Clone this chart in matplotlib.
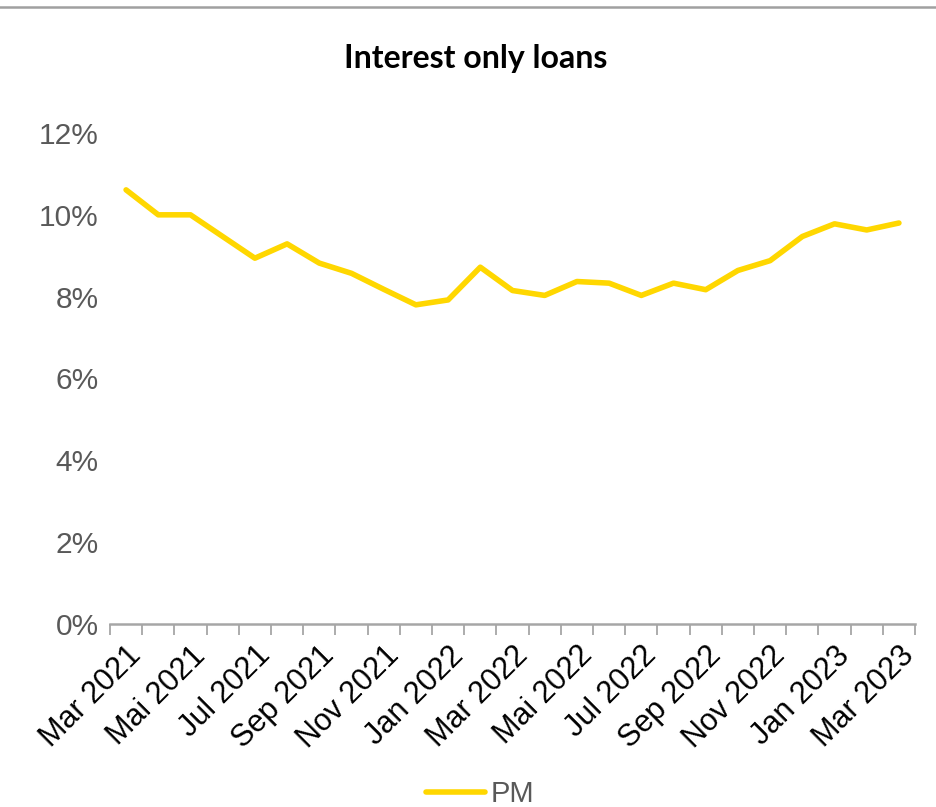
import matplotlib as mpl
import matplotlib.pyplot as plt
from matplotlib.lines import Line2D
import numpy as np

mpl.rcParams["font.family"] = ["Liberation Sans", "DejaVu Sans"]

# monthly data, Mar 2021 .. Mar 2023
months = ["Mar 2021", "Apr 2021", "Mai 2021", "Jun 2021", "Jul 2021", "Aug 2021",
          "Sep 2021", "Okt 2021", "Nov 2021", "Dez 2021", "Jan 2022", "Feb 2022",
          "Mar 2022", "Apr 2022", "Mai 2022", "Jun 2022", "Jul 2022", "Aug 2022",
          "Sep 2022", "Okt 2022", "Nov 2022", "Dez 2022", "Jan 2023", "Feb 2023",
          "Mar 2023"]
pm = [10.61, 10.00, 10.00, 9.47, 8.94, 9.29, 8.82, 8.57, 8.18, 7.80, 7.92, 8.72,
      8.15, 8.03, 8.37, 8.33, 8.03, 8.33, 8.17, 8.64, 8.88, 9.47, 9.78, 9.63, 9.80]
yticks = [0, 2, 4, 6, 8, 10, 12]

gray_txt = "#595959"
axis_col = "#A6A6A6"
gold = "#FFD700"

fig = plt.figure(figsize=(9.36, 8.07), dpi=100)
ax = fig.add_axes([0.1175, 0.2268, 0.8601, 0.6084])

x = np.arange(len(months))
ax.plot(x, pm, color=gold, linewidth=4, solid_capstyle="round",
        solid_joinstyle="round", zorder=3)

ax.set_xlim(-0.5, len(months) - 0.5)
ax.set_ylim(0, 12)
ax.set_yticks(yticks)
ax.set_yticklabels([f"{v}%" for v in yticks], color=gray_txt, fontsize=21.5)
ax.tick_params(axis="y", length=0, pad=8)

ax.set_xticks(x[::2])
ax.set_xticklabels(months[::2], rotation=45, ha="right", va="top",
                   rotation_mode="anchor", fontsize=22, color="black")
ax.set_xticks(np.arange(-0.5, len(months)), minor=True)
ax.tick_params(axis="x", which="major", length=0, pad=12)
ax.tick_params(axis="x", which="minor", length=8, width=1.3, color=axis_col)

for s in ["left", "right", "top"]:
    ax.spines[s].set_visible(False)
ax.spines["bottom"].set_color(axis_col)
ax.spines["bottom"].set_linewidth(1.8)

fig.text(0.508, 0.927, "Interest only loans", ha="center", va="center",
         fontsize=23, fontweight="bold", family=["Lato", "DejaVu Sans"])

# thin rule at top of figure
fig.add_artist(Line2D([0, 1], [0.991, 0.991], color="#A0A0A0", linewidth=1.8,
                      transform=fig.transFigure))

handle = Line2D([], [], color=gold, linewidth=4, solid_capstyle="round")
leg = fig.legend([handle], ["PM"], loc="center", bbox_to_anchor=(0.513, 0.016),
                 frameon=False, fontsize=21, handlelength=2.0, handletextpad=0.2)
for t in leg.get_texts():
    t.set_color(gray_txt)

fig.savefig("out.png", dpi=100)
